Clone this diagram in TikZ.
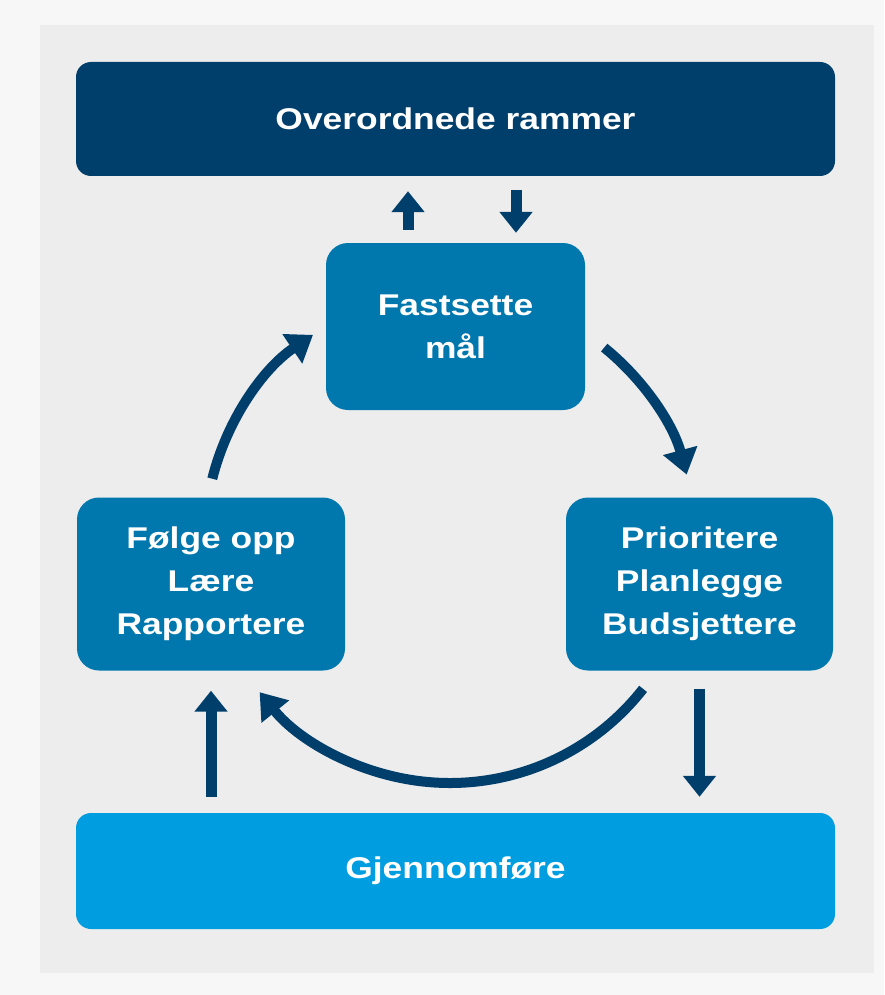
\documentclass[tikz,border=0pt]{standalone}
\usepackage{fontspec}
\newfontfamily\lab{Liberation Sans}[FakeStretch=1.18]
\usetikzlibrary{arrows.meta}
\definecolor{navy}{HTML}{003F6B}
\definecolor{midblue}{HTML}{0077AD}
\definecolor{brightblue}{HTML}{009EE0}
\definecolor{panel}{HTML}{EDEDED}
\definecolor{outer}{HTML}{F7F7F7}
\tikzset{
  box/.style={rectangle, inner sep=0pt, text=white, align=center,
    font=\lab\bfseries\fontsize{30}{43}\selectfont},
  wide/.style={box, minimum width=759pt, minimum height=114pt, rounded corners=15pt},
  stage/.style={box, fill=midblue, minimum width=266pt, minimum height=170pt, rounded corners=22pt},
  stem/.style={draw=navy, line width=11pt,
    -{Triangle[width=32pt,length=21pt]}},
  cycarrow/.style={draw=navy, line width=10pt,
    -{Triangle[width=34pt,length=25pt]}}
}
\begin{document}
\begin{tikzpicture}[x=1pt,y=1pt]
  % page and panel
  \fill[outer] (0,0) rectangle (884,-995);
  \useasboundingbox (0,0) rectangle (884,-995);
  \fill[panel] (40,-25) rectangle (874,-973);

  % boxes
  \node[wide, fill=navy] (top) at (455.5,-119) {Overordnede rammer};
  \node[stage, minimum width=259pt, minimum height=167pt] (fast) at (455.5,-326.5) {Fastsette\\mål};
  \node[stage, minimum width=268pt, minimum height=173pt] (foel) at (211,-584) {Følge opp\\Lære\\Rapportere};
  \node[stage, minimum width=267pt, minimum height=173pt] (prio) at (699.5,-584) {Prioritere\\Planlegge\\Budsjettere};
  \node[wide, fill=brightblue, minimum height=116pt] (gjen) at (455.5,-871) {Gjennomføre};

  % exchange with the overall framework
  \draw[stem, shorten <=13pt, shorten >=15pt] ([xshift=-47.5pt]fast.north) -- ([xshift=-47.5pt]fast.north |- top.south);
  \draw[stem, shorten <=14pt, shorten >=10pt] ([xshift=60.5pt]top.south) -- ([xshift=60.5pt]top.south |- fast.north);

  % links to and from execution
  \draw[stem, shorten <=16pt, shorten >=20pt] (gjen.north -| foel.south) -- (foel.south);
  \draw[stem, shorten <=18pt, shorten >=16pt] (prio.south) -- (prio.south |- gjen.north);

  % the planning cycle
  \coordinate (cyc) at (450,-538);
  \draw[cycarrow] ([shift={(51:245)}]cyc) arc[start angle=51, end angle=15, radius=245];
  \draw[cycarrow] ([shift={(-38:245)}]cyc) arc[start angle=-38, end angle=-141, radius=245];
  \draw[cycarrow] ([shift={(166:245)}]cyc) arc[start angle=166, end angle=124, radius=245];
\end{tikzpicture}
\end{document}
